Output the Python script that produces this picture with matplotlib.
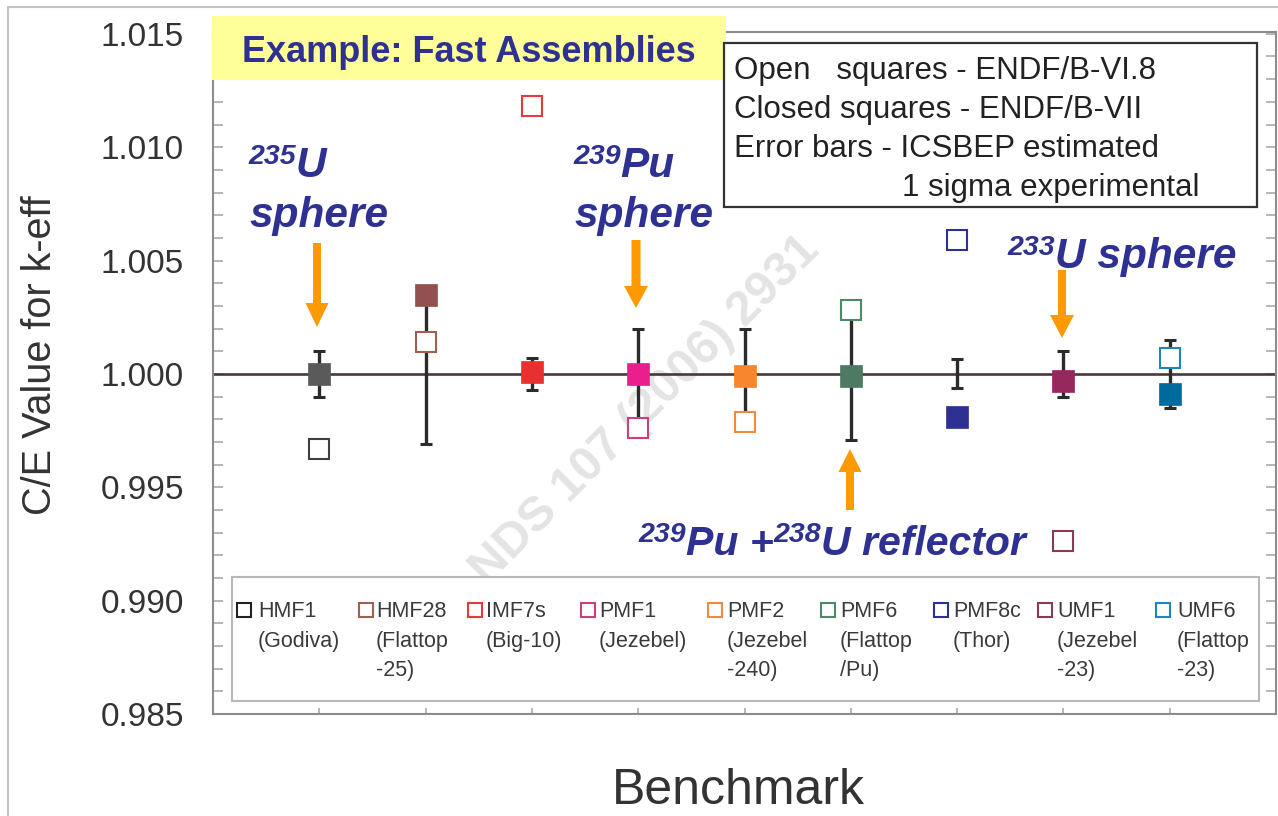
import matplotlib
matplotlib.use("Agg")
import matplotlib.pyplot as plt
from matplotlib.ticker import MultipleLocator, NullFormatter
from matplotlib.patches import Rectangle, FancyArrow
from matplotlib.lines import Line2D

# ---------------- data ----------------
benchmarks = ['HMF1', 'HMF28', 'IMF7s', 'PMF1', 'PMF2', 'PMF6', 'PMF8c', 'UMF1', 'UMF6']
subtitles = ['(Godiva)', '(Flattop\n-25)', '(Big-10)', '(Jezebel)', '(Jezebel\n-240)',
             '(Flattop\n/Pu)', '(Thor)', '(Jezebel\n-23)', '(Flattop\n-23)']
endf_b7 = [1.0000, 1.0035, 1.0001, 1.0000, 0.9999, 0.9999, 0.9981, 0.9997, 0.9991]     # closed
endf_b68 = [0.9967, 1.0014, 1.0118, 0.9976, 0.9979, 1.0028, 1.0059, 0.99265, 1.0007]   # open
exp_sigma = [0.0010, 0.0031, 0.0007, 0.0020, 0.0020, 0.0029, 0.00064, 0.0010, 0.0015]
exp_value = [1.0] * 9
closed_colors = ['#5a5a5a', '#935050', '#e83030', '#ea1e8c', '#f7862f', '#4e7a63',
                 '#2e3192', '#96285e', '#006a9c']
open_colors = ['#404040', '#a0604f', '#e83a3a', '#c8407e', '#f08a40', '#4e8a66',
               '#2e3192', '#8a3a55', '#1c86c0']
y_ticks = [0.985, 0.990, 0.995, 1.000, 1.005, 1.010, 1.015]

NAVY = '#2e3192'
ORANGE = '#ff9900'
FONT = 'Liberation Sans'
plt.rcParams['font.family'] = [FONT, 'DejaVu Sans']

W, H = 1278, 816
fig = plt.figure(figsize=(W / 100, H / 100), dpi=100)
fig.patch.set_facecolor('white')


def fx(x):
    return x / W


def fy(y):
    return 1 - y / H


ax = fig.add_axes([fx(213), fy(714), fx(1276) - fx(213), fy(32) - fy(714)])
ax.set_xlim(0, 10)
ax.set_ylim(0.985, 1.01508)

xs = list(range(1, len(benchmarks) + 1))

ax.axhline(1.0, color='#4a3838', lw=1.9, zorder=2)

ax.errorbar(xs, exp_value, yerr=exp_sigma, fmt='none', ecolor='#2b2b2b',
            elinewidth=2.4, capsize=4.6, capthick=2.2, zorder=3)

for x, v, c in zip(xs, endf_b68, open_colors):
    ax.plot([x], [v], marker='s', ms=14.2, mfc='white', mec=c, mew=1.5,
            ls='none', zorder=4)
for x, v, c in zip(xs, endf_b7, closed_colors):
    ax.plot([x], [v], marker='s', ms=15.5, mfc=c, mec=c, mew=0.5,
            ls='none', zorder=5)

# axes styling
for s in ax.spines.values():
    s.set_color('#8c8c8c')
    s.set_linewidth(1.5)
ax.yaxis.set_major_locator(MultipleLocator(0.005))
ax.yaxis.set_minor_locator(MultipleLocator(0.001))
ax.set_yticks(y_ticks)
ax.set_yticklabels(['%.3f' % v for v in y_ticks])
ax.tick_params(axis='y', which='both', direction='in', left=True, right=True,
               length=7, width=1.2, color='#aaaaaa', labelsize=24,
               labelcolor='#333333', pad=21)
ax.set_xticks(xs)
ax.xaxis.set_major_formatter(NullFormatter())
ax.tick_params(axis='x', which='both', direction='in', bottom=True, top=False,
               length=4, width=1.2, color='#aaaaaa')

# watermark
ax.text(fx(645), fy(410), 'NDS 107 (2006) 2931', transform=fig.transFigure,
        rotation=45, ha='center', va='center', fontsize=35, fontweight='bold',
        color='#e4e4e4', zorder=1, rotation_mode='anchor')

# axis titles
fig.text(fx(40), fy(355), 'C/E Value for k-eff', rotation=90, ha='center',
         va='center', fontsize=28.5, color='#333333')
fig.text(fx(738), fy(804), 'Benchmark', ha='center', va='baseline',
         fontsize=36, color='#333333')

# outer border
fig.add_artist(Rectangle((fx(8), fy(900)), 2, fy(7) - fy(900),
                         transform=fig.transFigure, fill=False,
                         edgecolor='#c4c4c4', lw=1.5))

# yellow title box
fig.add_artist(Rectangle((fx(212), fy(80)), fx(726) - fx(212), fy(16) - fy(80),
                         transform=fig.transFigure, facecolor='#ffff99',
                         edgecolor='none', zorder=2))
fig.text(fx(469), fy(62), 'Example: Fast Assemblies', ha='center', va='baseline',
         fontsize=26, fontweight='bold', color=NAVY, zorder=3)

# info box top right
fig.add_artist(Rectangle((fx(724), fy(207)), fx(1257) - fx(724), fy(43) - fy(207),
                         transform=fig.transFigure, facecolor='white',
                         edgecolor='#333333', lw=1.6, zorder=2))
info_lines = ['Open   squares - ENDF/B-VI.8', 'Closed squares - ENDF/B-VII',
              'Error bars - ICSBEP estimated', '1 sigma experimental']
info_x = [734, 734, 734, 902]
info_y = [79, 118, 157, 196]
for t, x, y in zip(info_lines, info_x, info_y):
    fig.text(fx(x), fy(y), t, ha='left', va='baseline', fontsize=22.5,
             color='#222222', zorder=3)

# bottom legend box
fig.add_artist(Rectangle((fx(232), fy(701)), fx(1259) - fx(232), fy(577) - fy(701),
                         transform=fig.transFigure, facecolor='white',
                         edgecolor='#b8b8b8', lw=1.5, zorder=2))
leg_sq_x = [244, 366, 475, 588, 715, 828, 941, 1045, 1163]
leg_tx_x = [258, 376, 486, 599, 727, 840, 953, 1057, 1177]
for i, name in enumerate(benchmarks):
    fig.add_artist(Line2D([fx(leg_sq_x[i])], [fy(610)], transform=fig.transFigure,
                          marker='s', ms=10.5, mfc='white',
                          mec=open_colors[i] if i else '#222222', mew=1.5,
                          ls='none', zorder=3))
    lines = [name] + subtitles[i].split('\n')
    for j, ln in enumerate(lines):
        fig.text(fx(leg_tx_x[i]), fy(617 + 29.5 * j), ln, ha='left', va='baseline',
                 fontsize=15.5, color='#3a3a3a', zorder=3)

# annotations with superscripts
renderer = fig.canvas.get_renderer()


def rich(x, y, parts, size=30.5, supsize=20.5, raise_px=13):
    cx = x
    for s, sup in parts:
        t = fig.text(fx(cx), fy(y - (raise_px if sup else 0)), s,
                     fontsize=supsize if sup else size, fontweight='bold',
                     fontstyle='italic', color=NAVY, ha='left', va='baseline',
                     zorder=4)
        cx += t.get_window_extent(renderer=renderer).width


rich(248, 177, [('235', True), ('U', False)])
rich(250, 227, [('sphere', False)])
rich(573, 177, [('239', True), ('Pu', False)])
rich(575, 227, [('sphere', False)])
rich(1007, 268, [('233', True), ('U sphere', False)])
rich(638, 555, [('239', True), ('Pu +', False), ('238', True), ('U reflector', False)],
     size=29.5)

# orange arrows (figure inches, uniform scale)
def arrow(x, y0, y1, hl=24, hw=23, sw=8):
    fig.add_artist(FancyArrow(x / 100, (H - y0) / 100, 0, -(y1 - y0) / 100,
                              width=sw / 100, head_width=hw / 100,
                              head_length=hl / 100, length_includes_head=True,
                              transform=fig.dpi_scale_trans, color=ORANGE,
                              lw=0, zorder=4))


arrow(317, 243, 327)
arrow(636, 240, 308, hl=22, hw=24, sw=9)
arrow(1062, 270, 338, hl=23, hw=24, sw=8)
arrow(850, 510, 449, hl=23, hw=23, sw=8)

fig.savefig('out.png', dpi=100)
